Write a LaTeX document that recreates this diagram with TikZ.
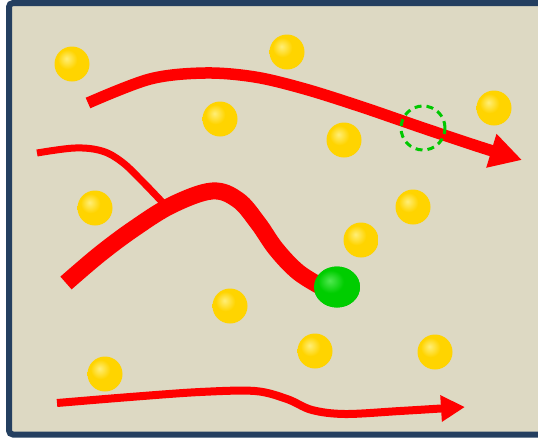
\documentclass[tikz,border=0pt]{standalone}
\usetikzlibrary{arrows.meta,shapes.geometric}
\definecolor{bgtan}{RGB}{221,217,195}
\definecolor{frameblue}{RGB}{36,63,96}
\definecolor{gold}{RGB}{255,212,0}
\definecolor{goldhl}{RGB}{255,238,120}
\definecolor{golddk}{RGB}{228,172,0}
\definecolor{goldedge}{RGB}{110,85,0}
\definecolor{grn}{RGB}{0,205,0}
\definecolor{grnhl}{RGB}{80,232,80}
\definecolor{grndk}{RGB}{0,160,0}
\definecolor{grnedge}{RGB}{0,75,0}
\definecolor{markgreen}{RGB}{0,200,0}
\pgfdeclareradialshading{goldball}{\pgfpoint{-8bp}{8bp}}{color(0bp)=(goldhl); color(14bp)=(gold); color(30bp)=(gold); color(41bp)=(golddk); color(54bp)=(goldedge); color(80bp)=(goldedge)}
\pgfdeclareradialshading{greenball}{\pgfpoint{-8bp}{8bp}}{color(0bp)=(grnhl); color(14bp)=(grn); color(30bp)=(grn); color(41bp)=(grndk); color(54bp)=(grnedge); color(80bp)=(grnedge)}
\tikzset{
  ball/.style={circle, inner sep=0pt, minimum size=35pt, shading=goldball},
  target/.style={ellipse, inner sep=0pt, minimum width=46pt, minimum height=41pt, shading=greenball},
  route/.style={draw=red, line width=#1},
  marker/.style={circle, draw=markgreen, line width=3pt, dash pattern=on 7pt off 5pt, minimum size=44pt, inner sep=0pt}
}
\begin{document}
\begin{tikzpicture}[x=1pt,y=-1pt]
\useasboundingbox (0,0) rectangle (538,437);
\clip (0,0) rectangle (538,437);
% frame (right side lies outside the picture)
\fill[bgtan] (9,3) rectangle (538,434.5);
\draw[frameblue, line width=6pt, rounded corners=4pt] (545,3) -- (9,3) -- (9,434.5) -- (545,434.5);

% balls
\node[ball] (b1) at (72,64) {};
\node[ball] (b2) at (287,52) {};
\node[ball] (b3) at (220,119) {};
\node[ball] (b4) at (344,140) {};
\node[ball] (b5) at (494,108) {};
\node[ball] (b6) at (95,208) {};
\node[ball] (b7) at (413,207) {};
\node[ball] (b8) at (361,240) {};
\node[ball] (b9) at (230,306) {};
\node[ball] (b10) at (315,351) {};
\node[ball] (b11) at (435,352) {};
\node[ball] (b12) at (105,374) {};

% top arrow
\coordinate (t0) at (88,103);
\coordinate (t1) at (522,160);
\draw[route=11.5pt, -{Triangle[length=32pt,width=33pt]}]
  plot[smooth, tension=0.55] coordinates {(t0) (150,79) (205,73) (255,77) (305,89) (362,107) (423,128) (480,147) (t1)};

% thin curve
\coordinate (s0) at (37,153);
\coordinate (s1) at (165,205);
\draw[route=7pt] plot[smooth, tension=0.6] coordinates {(s0) (75,148) (102,151) (122,162) (142,181) (s1)};

% thick curve
\coordinate (m0) at (66,283);
\node[target] (g) at (337,287) {};
\draw[route=17pt] plot[smooth, tension=0.6] coordinates {(m0) (100,254) (135,228) (172,205) (212,191) (238,200) (258,223) (276,249) (298,272) (322,287)};
\node[target] at (g) {};

% bottom arrow
\coordinate (u0) at (57,403);
\coordinate (u1) at (465,407);
\draw[route=8pt, -{Triangle[length=24pt,width=25pt]}]
  plot[smooth, tension=0.55] coordinates {(u0) (130,397) (200,392) (255,391) (287,399) (312,410) (345,414) (400,411) (u1)};

% dashed marker
\node[marker] (mk) at (423,128) {};
\end{tikzpicture}
\end{document}
